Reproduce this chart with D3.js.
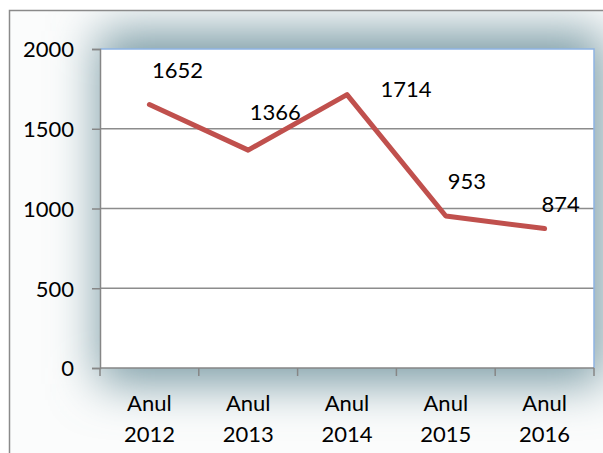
<!DOCTYPE html>
<html>
<head>
<meta charset="utf-8">
<script src="https://cdn.jsdelivr.net/npm/d3@7"></script>
<style>
  html, body { margin: 0; padding: 0; background: #ffffff; }
  svg { display: block; }
  text { font-family: Lato, "Open Sans", sans-serif; fill: #000; }
</style>
</head>
<body>
<svg id="chart" width="603" height="453"></svg>
<script>
// ---- data ----
const categories = ["Anul 2012", "Anul 2013", "Anul 2014", "Anul 2015", "Anul 2016"];
const values = [1652, 1366, 1714, 953, 874];
const yTicks = [0, 500, 1000, 1500, 2000];
// manual label placement (dx from point to label centre, dy from point to baseline)
const labelOffsets = [[28, -27], [27, -30], [59, 2], [21, -27], [16, -17]];

const W = 603, H = 453;
const plot = { left: 100, top: 49, right: 594, bottom: 368 };

const svg = d3.select("#chart");
const defs = svg.append("defs");

const blur = defs.append("filter").attr("id", "shadow")
  .attr("x", "-50%").attr("y", "-50%").attr("width", "200%").attr("height", "200%");
blur.append("feGaussianBlur").attr("stdDeviation", 24);

defs.append("clipPath").attr("id", "frameClip")
  .append("rect").attr("x", 9).attr("y", 10).attr("width", 700).attr("height", 600);

const x = d3.scaleBand().domain(categories).range([plot.left, plot.right]).paddingInner(0).paddingOuter(0);
const y = d3.scaleLinear().domain([0, 2000]).range([plot.bottom, plot.top]);

// chart area background
const bg = svg.append("g").attr("clip-path", "url(#frameClip)");
bg.append("rect").attr("x", 0).attr("y", 0).attr("width", W).attr("height", H).attr("fill", "#fbfcfc");
bg.append("rect")
  .attr("x", plot.left - 2).attr("y", plot.top - 18)
  .attr("width", plot.right - plot.left + 12).attr("height", plot.bottom - plot.top + 34)
  .attr("fill", "#7c9ca6").attr("filter", "url(#shadow)");

// frame border
svg.append("rect").attr("x", 9.5).attr("y", 10.5).attr("width", 700).attr("height", 600)
  .attr("fill", "none").attr("stroke", "#8a8a8a").attr("stroke-width", 1.5);

// plot area
svg.append("rect")
  .attr("x", plot.left).attr("y", plot.top)
  .attr("width", plot.right - plot.left).attr("height", plot.bottom - plot.top)
  .attr("fill", "#ffffff");

// gridlines
svg.append("g").selectAll("line").data(yTicks.filter(d => d > 0 && d < 2000)).join("line")
  .attr("x1", plot.left).attr("x2", plot.right)
  .attr("y1", d => y(d)).attr("y2", d => y(d))
  .attr("stroke", "#8c8c8c").attr("stroke-width", 1.3);

// plot border top/right (blue)
svg.append("path")
  .attr("d", `M${plot.left},${plot.top}H${plot.right}V${plot.bottom}`)
  .attr("fill", "none").attr("stroke", "#8eb4e3").attr("stroke-width", 1.5);

// y axis
const yAxis = d3.axisLeft(y).tickValues(yTicks).tickSize(8).tickPadding(18).tickFormat(d3.format("d"));
const gy = svg.append("g").attr("transform", `translate(${plot.left},0)`).call(yAxis);
gy.select(".domain").attr("stroke", "#868686").attr("stroke-width", 1.5);
gy.selectAll(".tick line").attr("stroke", "#868686").attr("stroke-width", 1.5);
gy.selectAll(".tick text").attr("font-size", 22).attr("font-family", "Lato, sans-serif").attr("fill", "#000").attr("dy", "0.36em");

// x axis: line + ticks at category boundaries
svg.append("line").attr("x1", plot.left).attr("x2", plot.right)
  .attr("y1", plot.bottom).attr("y2", plot.bottom)
  .attr("stroke", "#868686").attr("stroke-width", 1.5);
const boundaries = categories.map(c => x(c)).concat([x(categories[categories.length - 1]) + x.bandwidth()]);
svg.append("g").selectAll("line").data(boundaries).join("line")
  .attr("x1", d => d).attr("x2", d => d)
  .attr("y1", plot.bottom).attr("y2", plot.bottom + 8)
  .attr("stroke", "#868686").attr("stroke-width", 1.5);

const xl = svg.append("g").selectAll("text").data(categories).join("text")
  .attr("x", d => x(d) + x.bandwidth() / 2)
  .attr("y", 411)
  .attr("text-anchor", "middle")
  .attr("font-size", 22);
xl.each(function(d) {
  const parts = d.split(" ");
  const t = d3.select(this);
  t.append("tspan").attr("x", x(d) + x.bandwidth() / 2).attr("dy", 0).text(parts[0]);
  t.append("tspan").attr("x", x(d) + x.bandwidth() / 2).attr("dy", 31).text(parts[1]);
});

// line
const line = d3.line().x((d, i) => x(categories[i]) + x.bandwidth() / 2).y(d => y(d));
svg.append("path").datum(values)
  .attr("d", line)
  .attr("fill", "none").attr("stroke", "#c0504d").attr("stroke-width", 5)
  .attr("stroke-linejoin", "round").attr("stroke-linecap", "round");

// data labels
svg.append("g").selectAll("text").data(values).join("text")
  .attr("x", (d, i) => x(categories[i]) + x.bandwidth() / 2 + labelOffsets[i][0])
  .attr("y", (d, i) => y(d) + labelOffsets[i][1])
  .attr("text-anchor", "middle")
  .attr("font-size", 22)
  .text(d => d);
</script>
</body>
</html>
